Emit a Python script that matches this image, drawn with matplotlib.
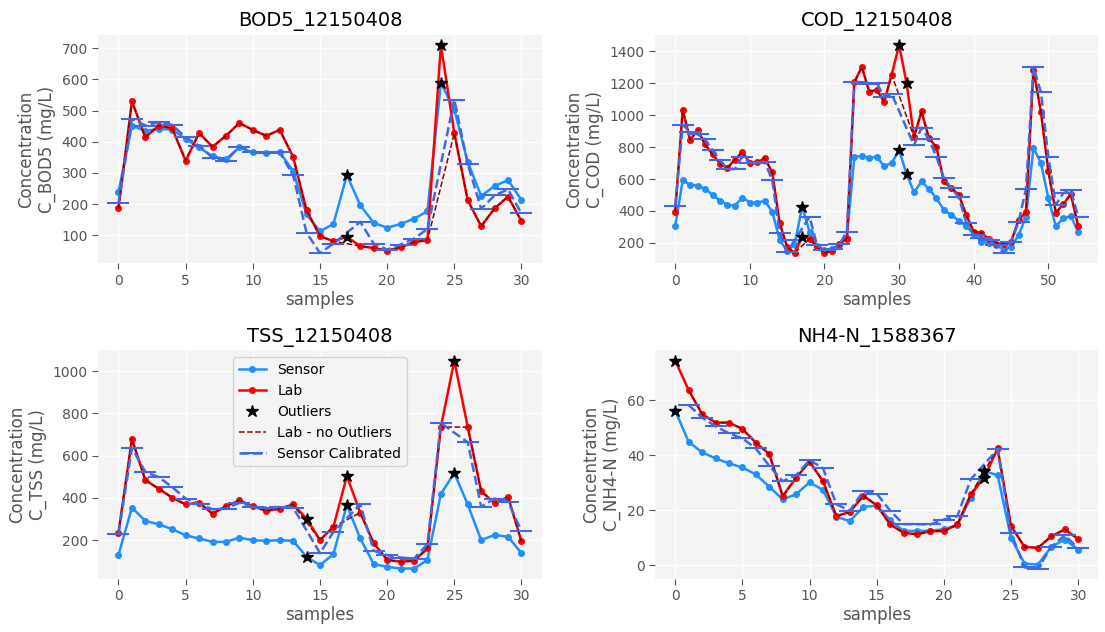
import matplotlib
matplotlib.use('Agg')
import matplotlib.pyplot as plt

# BOD5_12150408
bod_sensor = [239, 452, 435, 441, 439, 409, 382, 353, 344, 382, 366, 364, 367, 306, 167, 113,
              136, 293, 196, 140, 124, 136, 153, 177, 589, 503, 335, 226, 258, 277, 213]
bod_lab = [186, 530, 414, 452, 443, 339, 428, 384, 419, 460, 438, 419, 438, 352, 180, 97,
           81, 95, 65, 59, 51, 61, 78, 84, 710, 428, 212, 129, 186, 224, 145]
bod_calib = [202, 473, 452, 463, 454, 414, 387, 349, 339, 384, 366, 364, 366, 293, 108, 43,
             73, None, 143, 73, 54, 70, 89, 120, None, 535, 328, 185, 228, 247, 170]
bod_outliers = [17, 24]

# COD_12150408
cod_sensor = [305, 592, 564, 558, 539, 501, 465, 438, 434, 484, 453, 453, 463, 396, 217, 150,
              190, 427, 270, 179, 154, 164, 185, 234, 739, 743, 733, 739, 680, 701, 779, 632,
              516, 585, 537, 480, 406, 375, 339, 305, 259, 206, 200, 185, 160, 175, 248, 364,
              796, 701, 480, 305, 354, 368, 270]
cod_lab = [396, 1034, 844, 907, 817, 754, 697, 670, 722, 768, 701, 705, 731, 642, 322, 175,
           137, 238, 227, 175, 137, 150, 192, 227, 1206, 1301, 1147, 1158, 1084, 1253, 1438, 1200,
           863, 1023, 855, 800, 585, 543, 501, 375, 270, 263, 227, 196, 196, 206, 343, 396,
           1284, 1021, 648, 390, 442, 505, 305]
cod_calib = [434, 939, 895, 880, 848, 781, 718, 663, 663, 741, 701, 701, 707, 592, 263, 143,
             217, None, 364, 185, 154, 160, 192, 270, 1206, 1200, 1196, 1202, 1111, 1133, None, None,
             811, 922, 848, 739, 606, 543, 486, 326, 249, 234, 217, 185, 137, 206, 329, 539,
             1301, 1143, 739, 438, 512, 529, 364]
cod_outliers = [17, 30, 31]

# TSS_12150408
tss_sensor = [131, 354, 291, 275, 252, 223, 208, 192, 192, 212, 200, 197, 200, 197, 121, 82,
              134, 366, 208, 87, 74, 66, 66, 106, 419, 518, 369, 200, 225, 216, 139]
tss_lab = [236, 678, 484, 443, 401, 369, 377, 325, 361, 388, 361, 338, 349, 369, 302, 201,
           263, 503, 330, 186, 107, 98, 103, 161, 735, 1049, 735, 432, 374, 405, 194]
tss_calib = [231, 636, 523, 498, 451, 397, 372, 346, 349, 377, 358, 354, 357, 354, None, 139,
             239, None, 369, 150, 129, 118, 113, 181, 754, None, 663, 358, 397, 382, 244]
tss_outliers = [14, 17, 25]

# NH4-N_1588367
nh4_sensor = [56.1, 44.8, 41.0, 38.8, 37.0, 35.5, 33.0, 28.5, 23.9, 25.8, 30.1, 27.3, 17.6, 16.0,
              21.2, 21.6, 16.4, 12.4, 12.5, 12.5, 13.1, 14.5, 24.5, 34.2, 32.7, 9.9, 0.6, 0.2,
              6.7, 9.3, 5.7]
nh4_lab = [74.3, 63.6, 54.9, 51.8, 51.8, 49.5, 44.5, 40.4, 25.1, 31.8, 37.6, 30.5, 17.8, 19.4,
           25.2, 21.8, 14.8, 11.8, 11.2, 12.4, 12.4, 14.8, 25.7, 31.8, 42.4, 14.2, 6.7, 6.3,
           10.5, 13.0, 9.5]
nh4_calib = [None, 58.2, 53.6, 50.5, 47.9, 46.1, 42.4, 36.1, 30.5, 32.7, 38.2, 35.2, 22.1, 19.8,
             26.9, 26.0, 19.8, 14.9, 14.9, 14.8, 16.6, 17.8, 31.2, None, 42.1, 11.8, -0.8, -1.2,
             6.7, 10.9, 6.1]
nh4_outliers = [0, 23]

panels = [
    ('BOD5_12150408', 'C_BOD5', bod_sensor, bod_lab, bod_calib, bod_outliers),
    ('COD_12150408', 'C_COD', cod_sensor, cod_lab, cod_calib, cod_outliers),
    ('TSS_12150408', 'C_TSS', tss_sensor, tss_lab, tss_calib, tss_outliers),
    ('NH4-N_1588367', 'C_NH4-N', nh4_sensor, nh4_lab, nh4_calib, nh4_outliers),
]

plt.rcParams['font.family'] = ['DejaVu Sans']
plt.rcParams['axes.facecolor'] = '#f4f4f4'
plt.rcParams['axes.edgecolor'] = 'none'
plt.rcParams['axes.grid'] = True
plt.rcParams['grid.color'] = 'white'
plt.rcParams['grid.linewidth'] = 1.0
plt.rcParams['axes.axisbelow'] = True
plt.rcParams['axes.labelcolor'] = '#555555'
plt.rcParams['xtick.color'] = '#555555'
plt.rcParams['ytick.color'] = '#555555'
plt.rcParams['xtick.labelsize'] = 10
plt.rcParams['ytick.labelsize'] = 10
plt.rcParams['axes.labelsize'] = 12
plt.rcParams['axes.titlesize'] = 14

fig, axes = plt.subplots(2, 2, figsize=(11.05, 6.32), dpi=100)
fig.subplots_adjust(left=0.089, right=0.994, top=0.945, bottom=0.084, wspace=0.256, hspace=0.38)

for ax, (title, name, sensor, lab, calib, outl) in zip(axes.flat, panels):
    x = list(range(len(sensor)))
    ax.plot(x, sensor, '-o', color='dodgerblue', lw=1.8, ms=4, label='Sensor')
    ax.plot(x, lab, '-o', color='red', lw=1.8, ms=4, label='Lab')

    # outliers on both series
    ox = outl + outl
    oy = [sensor[i] for i in outl] + [lab[i] for i in outl]
    ax.plot(ox, oy, '*', color='black', ms=9, ls='none', label='Outliers', zorder=5)

    keep = [i for i in x if i not in outl]
    ax.plot(keep, [lab[i] for i in keep], '--', color='darkred', lw=1.1, label='Lab - no Outliers')

    cx = [i for i in x if calib[i] is not None]
    ax.plot(cx, [calib[i] for i in cx], '--_', color='royalblue', lw=1.8, ms=16, mew=1.5,
            label='Sensor Calibrated')

    ax.set_title(title)
    ax.set_xlabel('samples', labelpad=2)
    ax.set_ylabel('Concentration\n' + name + ' (mg/L)')
    ax.tick_params(length=4)

axes[1, 0].legend(loc='upper center', fontsize=10)

plt.savefig('out.png', dpi=100)
